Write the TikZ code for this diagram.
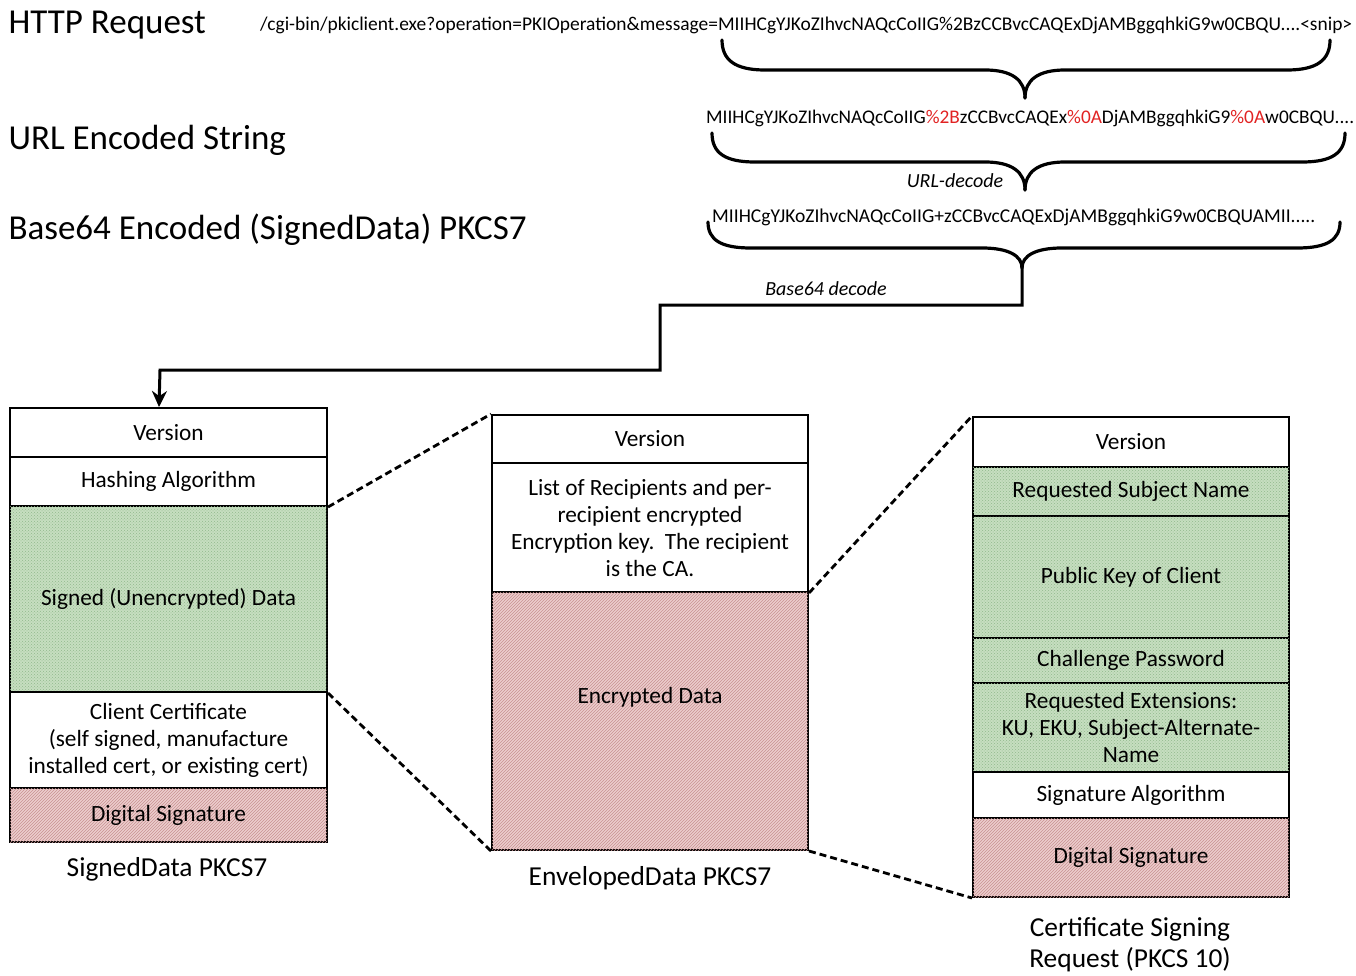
\documentclass[tikz,border=0pt]{standalone}
\usepackage{fontspec}
\usepackage{graphicx}
\setmainfont{Carlito}
\usetikzlibrary{patterns,arrows.meta,calc}
\definecolor{gfill}{RGB}{198,222,192}
\definecolor{gdot}{RGB}{145,185,140}
\definecolor{rfill}{RGB}{236,206,206}
\definecolor{rdot}{RGB}{200,145,145}
\definecolor{urlred}{RGB}{225,35,35}
\begin{document}
\begin{tikzpicture}[x=1pt,y=-1pt,
  cell/.style={draw, line width=2pt, align=center, inner sep=0pt,
    font=\fontsize{23.3}{27}\selectfont},
  lw/.style={cell, minimum width=317pt},
  mw/.style={cell, minimum width=316pt},
  gcell/.style={fill=gfill, postaction={pattern=crosshatch dots, pattern color=gdot}},
  rcell/.style={fill=rfill, postaction={pattern=north east lines, pattern color=rdot}},
  head/.style={anchor=west, font=\fontsize{35}{42}\selectfont},
  caption/.style={align=center, font=\fontsize{27.4}{31}\selectfont},
  brace/.style={line width=3.2pt, line cap=round},
  conn/.style={line width=3pt},
  dashconn/.style={line width=2.8pt, dash pattern=on 7pt off 4pt},
  steplabel/.style={font=\fontsize{20}{24}\selectfont\itshape}
]
\useasboundingbox (0,0) rectangle (1356,976);

% headings
\node[head] (h1) at (5,25) {HTTP Request};
\node[head] (h2) at (5,140) {URL Encoded String};
\node[head] (h3) at (5,230) {Base64 Encoded (SignedData) PKCS7};

% strings
\node[anchor=west, inner sep=0pt] (s1) at (260,25) {\resizebox{1092pt}{!}{/cgi-bin/pkiclient.exe?operation=PKIOperation\&message=MIIHCgYJKoZIhvcNAQcCoIIG\%2BzCCBvcCAQExDjAMBggqhkiG9w0CBQU....<snip>}};
\node[anchor=west, inner sep=0pt] (s2) at (706,118) {\resizebox{648pt}{!}{MIIHCgYJKoZIhvcNAQcCoIIG\textcolor{urlred}{\%2B}zCCBvcCAQEx\textcolor{urlred}{\%0A}DjAMBggqhkiG9\textcolor{urlred}{\%0A}w0CBQU....}};
\node[anchor=west, inner sep=0pt] (s3) at (712,217) {\resizebox{603pt}{!}{MIIHCgYJKoZIhvcNAQcCoIIG+zCCBvcCAQExDjAMBggqhkiG9w0CBQUAMII.....}};

% braces
\coordinate (b1tip) at (1025,98);
\coordinate (b2tip) at (1025,190);
\coordinate (b3tip) at (1022,268);
\draw[brace] (722,40) .. controls (722,60) and (735,70) .. (765,70) -- (985,70)
  .. controls (1012,70) and (1025,80) .. (b1tip);
\draw[brace] (1330,40) .. controls (1330,60) and (1317,70) .. (1287,70) -- (1065,70)
  .. controls (1038,70) and (1025,80) .. (b1tip);
\draw[brace] (712,133) .. controls (712,153) and (725,162) .. (755,162) -- (985,162)
  .. controls (1012,162) and (1025,172) .. (b2tip);
\draw[brace] (1345,133) .. controls (1345,153) and (1332,162) .. (1302,162) -- (1065,162)
  .. controls (1038,162) and (1025,172) .. (b2tip);
\draw[brace] (708,222) .. controls (708,240) and (721,248) .. (751,248) -- (982,248)
  .. controls (1009,248) and (1022,256) .. (b3tip);
\draw[brace] (1340,222) .. controls (1340,240) and (1327,248) .. (1297,248) -- (1062,248)
  .. controls (1035,248) and (1022,256) .. (b3tip);

\node[steplabel] (u1) at (955,181) {URL-decode};
\node[steplabel] (u2) at (826,289) {Base64 decode};

% left stack: SignedData PKCS7
\node[lw, minimum height=49pt] (l1) at (168.5,432.5) {Version};
\node[lw, minimum height=49pt] (l2) at (168.5,481.5) {Hashing Algorithm};
\node[lw, gcell, minimum height=186pt] (l3) at (168.5,599) {Signed (Unencrypted) Data};
\node[lw, minimum height=96pt] (l4) at (168.5,740) {Client Certificate\\(self signed, manufacture\\installed cert, or existing cert)};
\node[lw, rcell, minimum height=54pt] (l5) at (168.5,815) {Digital Signature};
\node[caption] (lc) at (167,869) {SignedData PKCS7};

% middle stack: EnvelopedData PKCS7
\node[mw, minimum height=48pt] (m1) at (650,439) {Version};
\node[mw, minimum height=129pt] (m2) at (650,527.5) {List of Recipients and per-\\recipient encrypted\\Encryption key.\ \ The recipient\\is the CA.};
\node[mw, rcell, minimum height=258pt] (m3) at (650,721) {Encrypted Data\\[24pt]};
\node[caption] (mc) at (650,878) {EnvelopedData PKCS7};

% right stack: CSR
\node[mw, minimum height=50pt] (r1) at (1131,442) {Version};
\node[mw, gcell, minimum height=49pt] (r2) at (1131,491.5) {Requested Subject Name};
\node[mw, gcell, minimum height=122pt] (r3) at (1131,577) {Public Key of Client};
\node[mw, gcell, minimum height=45pt] (r4) at (1131,660.5) {Challenge Password};
\node[mw, gcell, minimum height=89pt] (r5) at (1131,727.5) {Requested Extensions:\\KU, EKU, Subject-Alternate-\\Name};
\node[mw, minimum height=46pt] (r6) at (1131,795) {Signature Algorithm};
\node[mw, rcell, minimum height=79pt] (r7) at (1131,857.5) {Digital Signature};
\node[caption] (rc) at (1130,945) {Certificate Signing\\Request (PKCS 10)};

% decode arrow
\draw[conn, -{Stealth[length=16pt,width=15pt]}] (b3tip) -- (1022,305) -- (660,305)
  -- (660,370) -- (160,370) -- ($(l1.north west)+(150,0)$);

% dashed zoom connectors
\draw[dashconn] (l2.south east) -- (m1.north west);
\draw[dashconn] (l3.south east) -- (m3.south west);
\draw[dashconn] (m2.south east) -- (r1.north west);
\draw[dashconn] (m3.south east) -- (r7.south west);
\end{tikzpicture}
\end{document}
